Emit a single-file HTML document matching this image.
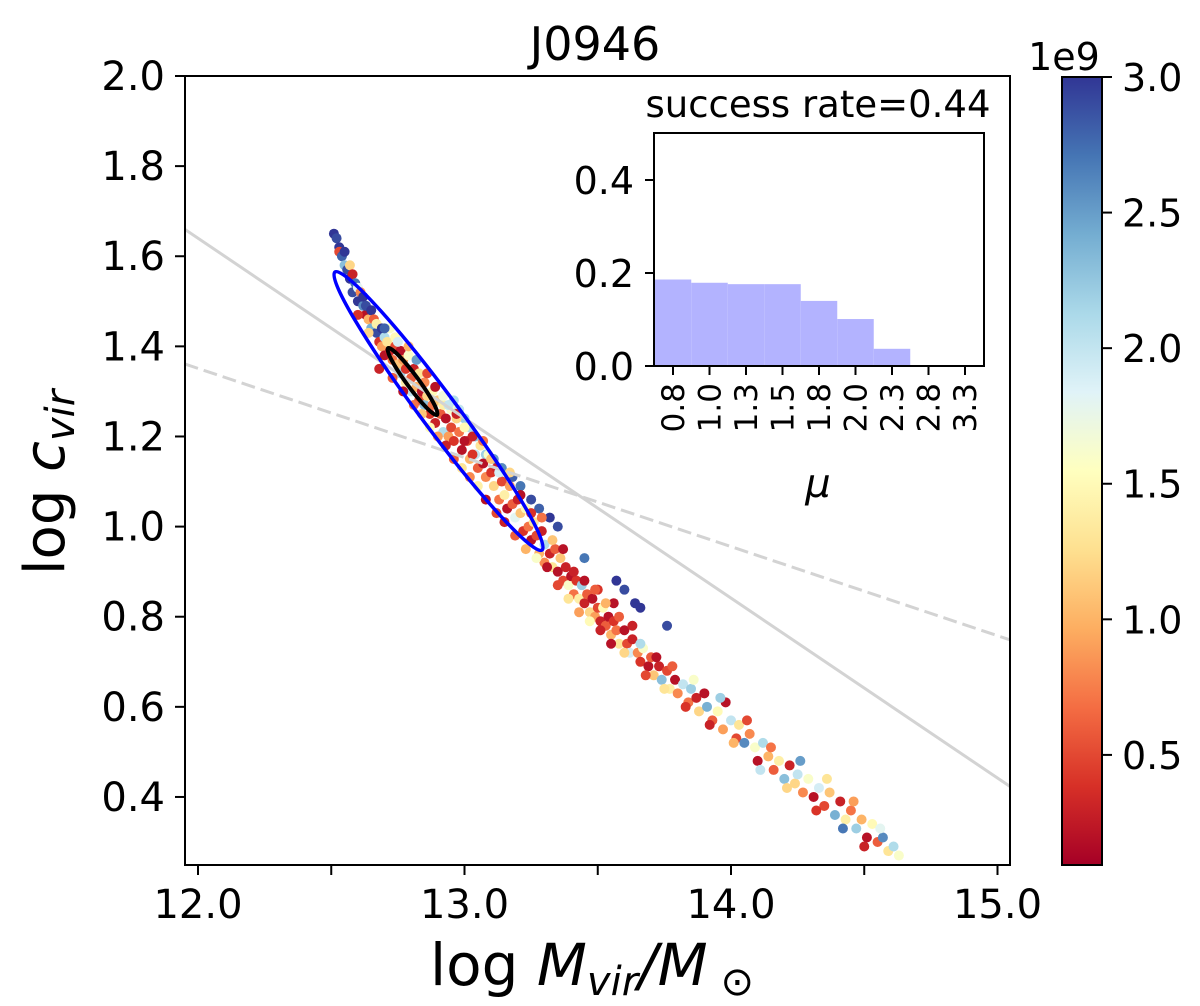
<!DOCTYPE html>
<html><head><meta charset="utf-8"><title>J0946</title>
<style>
html,body{margin:0;padding:0;background:#fff;}
svg{display:block;font-family:"DejaVu Sans","Liberation Sans",sans-serif;}
</style></head>
<body>
<svg id="chart" width="1200" height="1006" viewBox="0 0 1200 1006" xmlns="http://www.w3.org/2000/svg">
<defs>
<linearGradient id="cmap" x1="0" y1="1" x2="0" y2="0">
<stop offset="0" stop-color="#a50026"/><stop offset="0.1" stop-color="#d73027"/><stop offset="0.2" stop-color="#f46d43"/><stop offset="0.3" stop-color="#fdae61"/><stop offset="0.4" stop-color="#fee090"/><stop offset="0.5" stop-color="#ffffbf"/><stop offset="0.6" stop-color="#e0f3f8"/><stop offset="0.7" stop-color="#abd9e9"/><stop offset="0.8" stop-color="#74add1"/><stop offset="0.9" stop-color="#4575b4"/><stop offset="1" stop-color="#313695"/>
</linearGradient>
<clipPath id="plotclip"><rect x="185" y="76" width="825" height="789"/></clipPath>
</defs>
<text x="595" y="60" font-size="46" text-anchor="middle">J0946</text>
<g id="scatter" clip-path="url(#plotclip)"></g>
<g id="lines" clip-path="url(#plotclip)"></g>
<g id="ellipses" clip-path="url(#plotclip)"></g>
<rect x="185" y="76" width="825" height="789" fill="none" stroke="#000" stroke-width="2"/>
<g id="xticks"></g>
<g id="yticks"></g>
<text x="430" y="985" font-size="58">log <tspan font-style="italic">M</tspan><tspan font-style="italic" font-size="40" dy="10">vir</tspan><tspan font-style="italic" dy="-10">/M</tspan><tspan font-size="40" dy="10"> ⊙</tspan></text>
<text transform="translate(64,575) rotate(-90)" font-size="56">log <tspan font-style="italic">c</tspan><tspan font-style="italic" font-size="40" dy="10">vir</tspan></text>
<g id="inset">
<rect x="654" y="133" width="330" height="233" fill="#fff"/>
<g id="insetbars"></g>
<rect x="654" y="133" width="330" height="233" fill="none" stroke="#000" stroke-width="2"/>
<g id="insetticks"></g>
<text x="818" y="117" font-size="37" text-anchor="middle">success rate=0.44</text>
<text x="818" y="497" font-size="40" font-style="italic" text-anchor="middle">μ</text>
</g>
<rect x="1062" y="77" width="40" height="788" fill="url(#cmap)" stroke="#000" stroke-width="2"/>
<g id="cbticks"></g>
<text x="1064" y="70" font-size="38" text-anchor="middle">1e9</text>
</svg>
<script>
const NS="http://www.w3.org/2000/svg";
// ---- data ----
const xTicks=[12.0,12.5,13.0,13.5,14.0,14.5,15.0];
const xTickLabels=["12.0","","13.0","","14.0","","15.0"];
const yTicks=[0.4,0.6,0.8,1.0,1.2,1.4,1.6,1.8,2.0];
const yTickLabels=["0.4","0.6","0.8","1.0","1.2","1.4","1.6","1.8","2.0"];
const cbTicks=[0.5,1.0,1.5,2.0,2.5,3.0];
const cbTickLabels=["0.5","1.0","1.5","2.0","2.5","3.0"];
const cbRange=[0.094,3.0];
const solidLine=[[11.95,1.660],[15.05,0.422]];
const dashedLine=[[11.95,1.361],[15.05,0.748]];
const blueEllipseTips=[[12.514,1.565],[13.291,0.948]];
const blackEllipseTips=[[12.713,1.396],[12.897,1.248]];
const insetCategories=["0.8","1.0","1.3","1.5","1.8","2.0","2.3","2.8","3.3"];
const insetValues=[0.186,0.179,0.176,0.176,0.140,0.101,0.037,0,0];
const insetYTicks=[0.0,0.2,0.4];
const insetYTickLabels=["0.0","0.2","0.4"];
const scatterM=[12.51,12.52,12.53,12.53,12.54,12.55,12.55,12.56,12.57,12.57,12.58,12.59,12.58,12.60,12.60,12.61,12.62,12.62,12.63,12.63,12.64,12.65,12.65,12.66,12.67,12.67,12.68,12.69,12.69,12.70,12.70,
12.71,12.72,12.72,12.73,12.74,12.74,12.75,12.76,12.76,12.77,12.78,12.78,12.79,12.80,12.80,12.81,12.82,12.83,12.83,12.84,12.85,12.85,12.86,12.87,12.88,12.88,12.89,12.90,12.91,12.92,12.92,12.93,12.94,12.95,12.95,
12.96,12.98,13.00,13.02,13.04,13.06,13.08,13.11,13.14,13.18,13.21,13.25,13.28,13.32,13.35,13.57,13.60,13.64,13.66,13.76,13.45,
12.96,12.97,12.98,12.99,13.00,13.01,13.02,13.03,13.04,13.05,13.06,13.07,13.08,13.09,13.10,13.11,13.12,13.13,13.14,13.15,13.16,13.17,13.18,13.19,13.20,13.21,13.22,13.23,13.24,13.25,13.26,13.27,13.28,13.29,13.30,13.30,
13.32,13.33,13.34,13.35,13.36,13.37,13.38,13.39,13.40,13.41,13.42,13.43,13.44,13.45,13.46,13.47,13.48,13.49,13.50,13.51,13.52,13.53,13.54,13.55,13.56,13.57,13.58,13.60,13.61,13.62,13.63,13.65,13.66,13.67,13.69,13.70,13.71,13.73,13.74,13.76,13.77,13.79,13.80,13.50,13.56,
13.82,13.84,13.85,13.87,13.88,13.90,13.91,13.93,13.95,13.97,13.98,14.00,14.02,14.03,14.05,14.07,14.09,14.10,14.12,14.14,14.16,14.18,14.20,14.22,14.24,14.25,14.27,14.29,14.31,14.33,14.35,14.37,14.39,14.41,14.43,14.45,14.47,14.49,14.51,14.53,14.55,14.57,14.59,14.61,14.63,
12.60,12.64,12.68,12.70,12.73,12.75,12.77,12.79,12.81,12.82,12.84,12.86,12.87,12.89,12.90,12.92,12.93,12.94,12.96,12.97,12.99,13.00,13.02,13.03,13.05,13.07,13.08,13.10,13.12,13.13,13.15,13.17,13.19,13.21,13.23,13.25,13.27,13.29,13.31,13.33,13.35,13.37,13.39,13.41,13.43,13.45,13.47,13.49,13.51,13.53,13.55,13.58,13.60,13.63,13.66,13.68,13.72,13.75,13.78,13.83,13.86,13.92,13.96,14.01,14.06,14.11,14.15,14.21,14.26,14.32,14.36,14.42,14.46,14.50,14.56];
const scatterC=[1.65,1.64,1.62,1.61,1.60,1.61,1.58,1.57,1.58,1.55,1.56,1.54,1.52,1.53,1.50,1.52,1.49,1.51,1.47,1.49,1.46,1.48,1.44,1.46,1.43,1.45,1.41,1.44,1.40,1.42,1.38,
1.41,1.44,1.39,1.37,1.42,1.40,1.36,1.39,1.34,1.37,1.35,1.32,1.38,1.33,1.30,1.35,1.31,1.28,1.34,1.30,1.27,1.32,1.29,1.25,1.30,1.27,1.23,1.28,1.25,1.21,1.27,1.24,1.20,1.26,1.22,
1.28,1.26,1.24,1.22,1.20,1.18,1.16,1.15,1.13,1.11,1.09,1.06,1.04,1.02,1.00,0.88,0.86,0.83,0.82,0.78,0.93,
1.19,1.24,1.21,1.17,1.22,1.19,1.15,1.20,1.16,1.13,1.18,1.14,1.11,1.16,1.12,1.09,1.13,1.06,1.10,1.07,1.04,1.09,1.05,1.02,1.06,1.03,0.99,1.04,1.00,0.97,1.01,0.98,0.94,0.99,0.96,0.92,
0.94,0.91,0.95,0.90,0.93,0.88,0.91,0.87,0.89,0.85,0.88,0.84,0.87,0.83,0.85,0.81,0.84,0.80,0.82,0.79,0.82,0.78,0.80,0.76,0.79,0.77,0.74,0.77,0.74,0.72,0.75,0.72,0.70,0.73,0.69,0.71,0.67,0.69,0.66,0.68,0.64,0.66,0.63,0.86,0.83,
0.65,0.61,0.64,0.62,0.59,0.63,0.60,0.57,0.59,0.55,0.61,0.57,0.53,0.56,0.52,0.54,0.51,0.48,0.52,0.49,0.46,0.48,0.44,0.47,0.43,0.45,0.41,0.44,0.40,0.42,0.38,0.41,0.36,0.39,0.35,0.37,0.33,0.35,0.31,0.34,0.30,0.31,0.28,0.29,0.27,
1.47,1.43,1.35,1.44,1.33,1.41,1.30,1.40,1.27,1.37,1.25,1.34,1.22,1.31,1.20,1.29,1.18,1.27,1.15,1.25,1.13,1.19,1.11,1.16,1.09,1.19,1.06,1.15,1.03,1.12,1.01,1.12,0.98,1.07,0.95,1.03,0.93,1.02,0.91,0.97,0.87,0.95,0.84,0.90,0.81,0.88,0.79,0.86,0.77,0.83,0.74,0.80,0.72,0.78,0.74,0.67,0.71,0.64,0.69,0.60,0.66,0.56,0.62,0.52,0.57,0.46,0.51,0.42,0.48,0.37,0.44,0.33,0.39,0.29,0.33];
const scatterAge=[3.0,2.9,3.0,0.5,2.8,3.0,2.3,2.9,1.2,3.0,0.3,2.7,2.9,1.8,3.0,0.8,2.6,3.0,0.2,2.9,1.0,3.0,2.4,0.6,2.9,1.4,0.4,3.0,0.9,2.1,0.2,
1.3,1.6,0.3,0.7,1.5,0.5,1.1,0.2,2.2,0.9,0.4,1.4,1.6,0.6,2.0,0.3,1.0,0.5,1.3,0.2,2.3,0.8,1.2,0.4,1.5,0.7,0.3,1.1,0.6,2.1,1.4,0.2,0.9,1.6,0.5,
2.1,2.0,2.2,2.1,2.3,2.0,2.2,2.5,2.6,2.8,2.7,2.9,2.8,3.0,2.9,3.0,2.9,3.0,3.0,2.9,2.7,
0.4,1.2,0.7,0.2,1.5,0.5,1.0,0.3,2.0,0.6,1.3,0.2,0.8,1.6,0.4,1.2,0.3,0.7,0.5,1.4,0.2,0.9,0.6,1.8,0.3,1.1,0.4,1.5,0.7,0.2,1.3,0.5,1.0,0.3,2.1,0.8,
0.3,1.3,0.6,0.2,1.1,0.5,0.3,1.6,0.2,0.7,0.4,1.4,2.2,0.3,0.6,1.2,0.2,0.9,0.5,0.3,1.5,0.6,0.2,1.0,0.4,0.7,1.3,0.2,0.5,1.9,0.3,0.8,0.4,1.6,0.2,0.6,1.1,0.3,2.3,0.5,1.4,0.2,0.8,0.4,0.2,
2.0,0.7,2.2,0.3,1.2,0.2,2.4,0.6,1.5,0.9,0.2,2.0,0.5,1.3,2.6,0.8,1.6,0.2,2.1,1.0,0.6,1.4,2.3,0.3,1.2,2.0,0.8,1.6,0.2,1.9,0.5,1.1,2.4,0.3,1.4,0.7,2.2,1.0,0.2,1.5,0.6,2.6,1.3,2.1,1.6,
0.4,1.2,0.3,2.8,0.6,1.9,0.2,1.0,0.7,2.5,1.1,0.5,1.5,0.2,0.9,1.7,0.3,2.0,0.6,0.3,1.3,0.2,0.8,0.4,1.4,0.7,0.2,1.1,0.5,1.9,0.3,1.2,0.6,0.2,1.0,0.4,1.6,0.7,0.2,1.1,0.5,0.2,1.3,0.3,0.9,0.2,1.5,0.6,0.3,1.0,0.2,0.6,1.2,0.3,2.1,0.5,0.2,1.3,0.6,0.4,1.6,0.3,2.2,1.0,0.5,2.0,0.7,1.2,2.5,0.4,1.3,2.7,0.9,0.3,1.8];

// ---- scales ----
function X(m){return 198+(m-12)*266.5;}
function Y(c){return 76+(2-c)*450.6;}
function CBY(v){return 77+(cbRange[1]-v)/(cbRange[1]-cbRange[0])*788;}
function IX(i){return 673+36.5*i;}
function IY(v){return 366-v*465;}
const stops=["#a50026","#d73027","#f46d43","#fdae61","#fee090","#ffffbf","#e0f3f8","#abd9e9","#74add1","#4575b4","#313695"];
function hex(h){return [parseInt(h.substr(1,2),16),parseInt(h.substr(3,2),16),parseInt(h.substr(5,2),16)];}
function cmap(v){let t=(v-cbRange[0])/(cbRange[1]-cbRange[0]);t=Math.max(0,Math.min(1,t));const p=t*10;const i=Math.min(9,Math.floor(p));const f=p-i;const a=hex(stops[i]),b=hex(stops[i+1]);return "rgb("+a.map((x,k)=>Math.round(x+(b[k]-x)*f)).join(",")+")";}
function mk(tag,attrs,parent){const e=document.createElementNS(NS,tag);for(const k in attrs)e.setAttribute(k,attrs[k]);parent.appendChild(e);return e;}

// scatter
const sg=document.getElementById('scatter');
for(let i=0;i<scatterM.length;i++){
  const c=mk('circle',{cx:X(scatterM[i]),cy:Y(scatterC[i]),r:5,fill:cmap(scatterAge[i])},sg);
  
  
}
// lines
const lg=document.getElementById('lines');
const l1=mk('line',{x1:X(solidLine[0][0]),y1:Y(solidLine[0][1]),x2:X(solidLine[1][0]),y2:Y(solidLine[1][1]),stroke:'#d3d3d3','stroke-width':3},lg);


const l2=mk('line',{x1:X(dashedLine[0][0]),y1:Y(dashedLine[0][1]),x2:X(dashedLine[1][0]),y2:Y(dashedLine[1][1]),stroke:'#d3d3d3','stroke-width':3,'stroke-dasharray':'14 6'},lg);


// ellipses
const eg=document.getElementById('ellipses');
function ell(tips,minor,color,sw,name){
  const x1=X(tips[0][0]),y1=Y(tips[0][1]),x2=X(tips[1][0]),y2=Y(tips[1][1]);
  const cx=(x1+x2)/2,cy=(y1+y2)/2,rx=Math.hypot(x2-x1,y2-y1)/2,ang=Math.atan2(y2-y1,x2-x1)*180/Math.PI;
  const e=mk('ellipse',{cx:cx,cy:cy,rx:rx,ry:minor,transform:'rotate('+ang+' '+cx+' '+cy+')',fill:'none',stroke:color,'stroke-width':sw},eg);
  
  
}
ell(blueEllipseTips,18,'#0000ff',3.5,'outer-confidence-ellipse');
ell(blackEllipseTips,6,'#000000',4,'inner-confidence-ellipse');
// x ticks
const xg=document.getElementById('xticks');
xTicks.forEach((v,i)=>{
  const t=mk('line',{x1:X(v),y1:865,x2:X(v),y2:875,stroke:'#000','stroke-width':2},xg);
  
  
  if(xTickLabels[i]){const tx=mk('text',{x:X(v),y:918,'font-size':40,'text-anchor':'middle'},xg);tx.textContent=xTickLabels[i];
  
  }
});
// y ticks
const yg=document.getElementById('yticks');
yTicks.forEach((v,i)=>{
  const t=mk('line',{x1:175,y1:Y(v),x2:185,y2:Y(v),stroke:'#000','stroke-width':2},yg);
  
  
  const tx=mk('text',{x:165,y:Y(v)+14,'font-size':40,'text-anchor':'end'},yg);tx.textContent=yTickLabels[i];
  
  
});
// colorbar ticks
const cg=document.getElementById('cbticks');
cbTicks.forEach((v,i)=>{
  const t=mk('line',{x1:1102,y1:CBY(v),x2:1112,y2:CBY(v),stroke:'#000','stroke-width':2},cg);
  
  
  const tx=mk('text',{x:1122,y:CBY(v)+14,'font-size':38},cg);tx.textContent=cbTickLabels[i];
  
  
});
// inset bars
const bg=document.getElementById('insetbars');
insetValues.forEach((v,i)=>{
  if(v<=0)return;
  const r=mk('rect',{x:IX(i)-18.25,y:IY(v),width:36.5,height:366-IY(v),fill:'#b3b3ff'},bg);
  
  
});
const ig=document.getElementById('insetticks');
insetCategories.forEach((lab,i)=>{
  const t=mk('line',{x1:IX(i),y1:366,x2:IX(i),y2:375,stroke:'#000','stroke-width':2},ig);
  
  
  const tx=mk('text',{transform:'translate('+(IX(i)+11)+',383) rotate(-90)','font-size':31,'text-anchor':'end'},ig);tx.textContent=lab;
  
  
});
insetYTicks.forEach((v,i)=>{
  const t=mk('line',{x1:645,y1:IY(v),x2:654,y2:IY(v),stroke:'#000','stroke-width':2},ig);
  
  
  const tx=mk('text',{x:634,y:IY(v)+14,'font-size':38,'text-anchor':'end'},ig);tx.textContent=insetYTickLabels[i];
  
  
});
</script>
</body></html>
